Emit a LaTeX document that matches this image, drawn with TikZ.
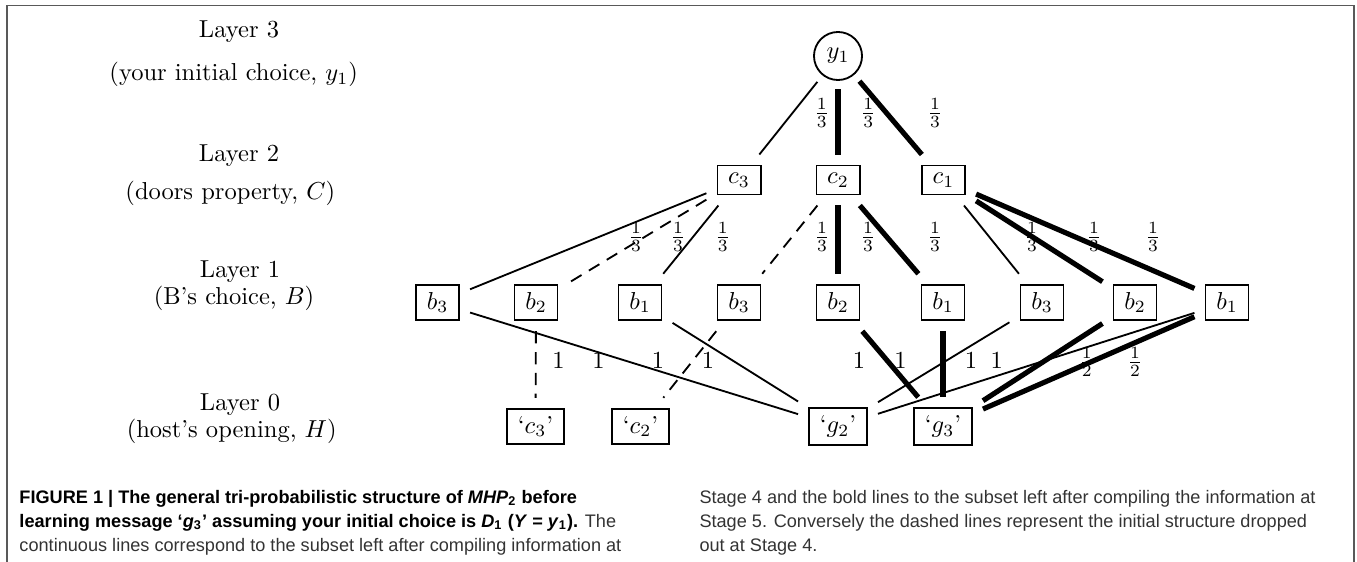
\documentclass[tikz,border=0pt]{standalone}
\usepackage{fontspec}
\newfontfamily\capfont{Liberation Sans}

\begin{document}
\begin{tikzpicture}[x=0.408pt, y=-0.408pt,
        box/.style={draw, line width=0.75pt, rectangle, inner xsep=4.4pt, inner ysep=3pt, outer sep=4.5pt},
        root/.style={draw, line width=0.75pt, circle, minimum size=19.6pt, inner sep=0pt, outer sep=3.7pt},
        thinline/.style={line width=0.75pt},
        boldline/.style={line width=2.1pt},
        dashline/.style={line width=0.75pt, dash pattern=on 5pt off 3.5pt},
        layer/.style={anchor=base, inner sep=0pt},
        prob/.style={inner sep=0pt},
        captext/.style={anchor=base west, inner sep=0pt, font=\capfont\fontsize{7.4pt}{9pt}\selectfont}]
        \useasboundingbox (0,0) rectangle (1357,562);

        % Frame round the figure
        \draw[black!65, line width=0.6pt] (7,562) -- (7,5.3) -- (1354,5.3) -- (1354,562);

        % Layer names on the left
        \node[layer] (lay3) at (239,38) {Layer 3};
        \node[layer] (desc3) at (233.7,81) {(your initial choice, $y_1$)};
        \node[layer] (lay2) at (239,162) {Layer 2};
        \node[layer] (desc2) at (230.3,200) {(doors property, $C$)};
        \node[layer] (lay1) at (240,277) {Layer 1};
        \node[layer] (desc1) at (234,304) {(B's choice, $B$)};
        \node[layer] (lay0) at (240,410.7) {Layer 0};
        \node[layer] (desc0) at (231.7,437) {(host's opening, $H$)};

        % Layer 3 and Layer 2
        \node[root] (y1) at (838,56) {$y_1$};
        \node[box] (c3) at (739,180) {$c_3$};
        \node[box] (c2) at (838,180) {$c_2$};
        \node[box] (c1) at (943.5,180) {$c_1$};

        % Layer 1
        \node[box] (b3a) at (437.5,302.5) {$b_3$};
        \node[box] (b2a) at (536,302.5) {$b_2$};
        \node[box] (b1a) at (640,302.5) {$b_1$};
        \node[box] (b3b) at (739,302.5) {$b_3$};
        \node[box] (b2b) at (838,302.5) {$b_2$};
        \node[box] (b1b) at (943,302.5) {$b_1$};
        \node[box] (b3c) at (1042,302.5) {$b_3$};
        \node[box] (b2c) at (1135,302.5) {$b_2$};
        \node[box] (b1c) at (1227,302.5) {$b_1$};

        % Layer 0
        \node[box] (hc3) at (535.5,426.5) {`$c_3$'};
        \node[box] (hc2) at (640.5,426.5) {`$c_2$'};
        \node[box] (hg2) at (838,426.5) {`$g_2$'};
        \node[box] (hg3) at (943,426.5) {`$g_3$'};

        % Edges from Layer 3 to Layer 2
        \draw[thinline] (y1) -- (c3);
        \draw[boldline] (y1) -- (c2);
        \draw[boldline] (y1) -- (c1);

        % Edges from Layer 2 to Layer 1
        \draw[thinline] (c3) -- (b3a);
        \draw[dashline] (c3) -- (b2a);
        \draw[thinline] (c3) -- (b1a);
        \draw[dashline] (c2) -- (b3b);
        \draw[boldline] (c2) -- (b2b);
        \draw[boldline] (c2) -- (b1b);
        \draw[thinline] (c1) -- (b3c);
        \draw[boldline] (c1) -- (b2c);
        \draw[boldline] (c1) -- (b1c);

        % Edges from Layer 1 to Layer 0
        \draw[thinline] (b3a) -- (hg2);
        \draw[dashline] (b2a) -- (hc3);
        \draw[thinline] (b1a) -- (hg2);
        \draw[dashline] (b3b) -- (hc2);
        \draw[boldline] (b2b) -- (hg3);
        \draw[boldline] (b1b) -- (hg3);
        \draw[thinline] (b3c) -- (hg2);
        \draw[boldline] (b2c) -- (hg3);
        \draw[thinline] (b1c) -- (hg2);
        \draw[boldline] (b1c) -- (hg3);

        % Probabilities
        \node[prob] (p3a) at (821.7,113.3) {$\frac{1}{3}$};
        \node[prob] (p3b) at (868.3,113.3) {$\frac{1}{3}$};
        \node[prob] (p3c) at (935,113.3) {$\frac{1}{3}$};
        \node[prob] (p2a) at (636,237) {$\frac{1}{3}$};
        \node[prob] (p2b) at (678,237) {$\frac{1}{3}$};
        \node[prob] (p2c) at (722.7,237) {$\frac{1}{3}$};
        \node[prob] (p2d) at (822,237) {$\frac{1}{3}$};
        \node[prob] (p2e) at (868,237) {$\frac{1}{3}$};
        \node[prob] (p2f) at (935,237) {$\frac{1}{3}$};
        \node[prob] (p2g) at (1032,237) {$\frac{1}{3}$};
        \node[prob] (p2h) at (1094,237) {$\frac{1}{3}$};
        \node[prob] (p2i) at (1153,237) {$\frac{1}{3}$};
        \node[prob] (p1a) at (558.6,361) {$1$};
        \node[prob] (p1b) at (598.6,361) {$1$};
        \node[prob] (p1c) at (658,361) {$1$};
        \node[prob] (p1d) at (708,361) {$1$};
        \node[prob] (p1e) at (859,361) {$1$};
        \node[prob] (p1f) at (900.5,361) {$1$};
        \node[prob] (p1g) at (971,361) {$1$};
        \node[prob] (p1h) at (996.7,361) {$1$};
        \node[prob] (p1i) at (1086.7,362) {$\frac{1}{2}$};
        \node[prob] (p1j) at (1135,362) {$\frac{1}{2}$};

        % Caption
        \node[captext] (capa) at (19,503) {\bfseries FIGURE 1 | The general tri-probabilistic structure of \textit{MHP}\textsubscript{2} before};
        \node[captext] (capb) at (19,527) {\textbf{learning message ‘\textit{g}\textsubscript{3}’ assuming your initial choice is \textit{D}\textsubscript{1} (\textit{Y} = \textit{y}\textsubscript{1}).} \textcolor{black!80}{The}};
        \node[captext, black!80] (capc) at (19,551) {continuous lines correspond to the subset left after compiling information at};
        \node[captext, black!80] (capd) at (699,503) {Stage 4 and the bold lines to the subset left after compiling the information at};
        \node[captext, black!80] (cape) at (699,527) {Stage 5. Conversely the dashed lines represent the initial structure dropped};
        \node[captext, black!80] (capf) at (699,551) {out at Stage 4.};
    \end{tikzpicture}
\end{document}
